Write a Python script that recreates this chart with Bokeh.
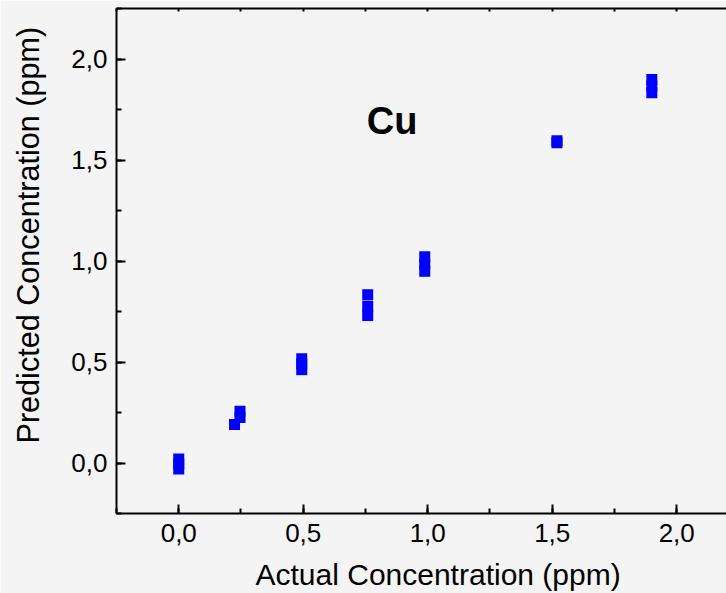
from bokeh.plotting import figure
from bokeh.models import (Range1d, LinearAxis, SingleIntervalTicker,
                          CustomJSTickFormatter, Label, ColumnDataSource, Title)
from bokeh.embed import file_html
from bokeh.resources import INLINE

# ---- data ----
actual = [0.0, 0.0, 0.0,
          0.224, 0.246, 0.246,
          0.494, 0.494, 0.494,
          0.759, 0.759, 0.759,
          0.988, 0.988, 0.988,
          1.519, 1.519,
          1.90, 1.90, 1.90]
predicted = [0.020, -0.005, -0.030,
             0.190, 0.256, 0.225,
             0.516, 0.490, 0.462,
             0.833, 0.776, 0.730,
             1.021, 0.985, 0.949,
             1.595, 1.585,
             1.899, 1.866, 1.833]
element = "Cu"
x_title = "Actual Concentration (ppm)"
y_title = "Predicted Concentration (ppm)"

FONT = "Liberation Sans"
BG = "#f4f4f4"

src = ColumnDataSource(dict(actual=actual, predicted=predicted))

p = figure(width=726, height=593,
           x_range=Range1d(-0.25, 2.2), y_range=Range1d(-0.25, 2.25),
           output_backend="svg", toolbar_location=None,
           min_border_left=116, min_border_right=0,
           min_border_top=8, min_border_bottom=80)
p.background_fill_color = BG
p.border_fill_color = BG
p.outline_line_color = None
p.grid.visible = False

fmt = CustomJSTickFormatter(code="return tick.toFixed(1).replace('.', ',');")

for ax in (p.xaxis[0], p.yaxis[0]):
    ax.ticker = SingleIntervalTicker(interval=0.5, num_minor_ticks=2)
    ax.formatter = fmt
    ax.major_tick_in = 9
    ax.major_tick_out = 0
    ax.minor_tick_in = 5
    ax.minor_tick_out = 0
    ax.axis_line_width = 2
    ax.major_tick_line_width = 2
    ax.minor_tick_line_width = 2
    ax.axis_line_color = "black"
    ax.major_tick_line_color = "black"
    ax.minor_tick_line_color = "black"
    ax.major_label_text_font = FONT
    ax.major_label_text_font_size = "26px"
    ax.major_label_text_color = "black"
p.xaxis[0].major_label_standoff = 10
p.yaxis[0].major_label_standoff = 9

top = LinearAxis(ticker=SingleIntervalTicker(interval=0.25, num_minor_ticks=0),
                 formatter=CustomJSTickFormatter(code="return '';"),
                 major_tick_in=3, major_tick_out=0,
                 minor_tick_in=0, minor_tick_out=0,
                 major_label_standoff=0,
                 major_label_text_font_size="0px",
                 axis_line_width=2, major_tick_line_width=2,
                 axis_line_color="black", major_tick_line_color="black")
p.add_layout(top, "above")

p.scatter("actual", "predicted", source=src, marker="square", size=11,
          fill_color="#0000ff", line_color=None)

p.add_layout(Label(x=0.857, y=1.695, text=element, text_font=FONT,
                   text_font_style="bold", text_font_size="38px",
                   text_align="center", text_baseline="middle",
                   text_color="black"))

xt = Title(text=x_title, align="left", offset=139, text_font=FONT,
           text_font_size="30px", text_font_style="normal",
           text_color="black", standoff=0,
           padding=dict(left=0, right=0, top=11, bottom=0))
p.add_layout(xt, "below")
yt = Title(text=y_title, align="left", offset=70, text_font=FONT,
           text_font_size="30.6px", text_font_style="normal",
           text_color="black", standoff=0,
           padding=dict(left=0, right=0, top=0, bottom=24))
p.add_layout(yt, "left")

open("out.html", "w").write(file_html(p, INLINE))
